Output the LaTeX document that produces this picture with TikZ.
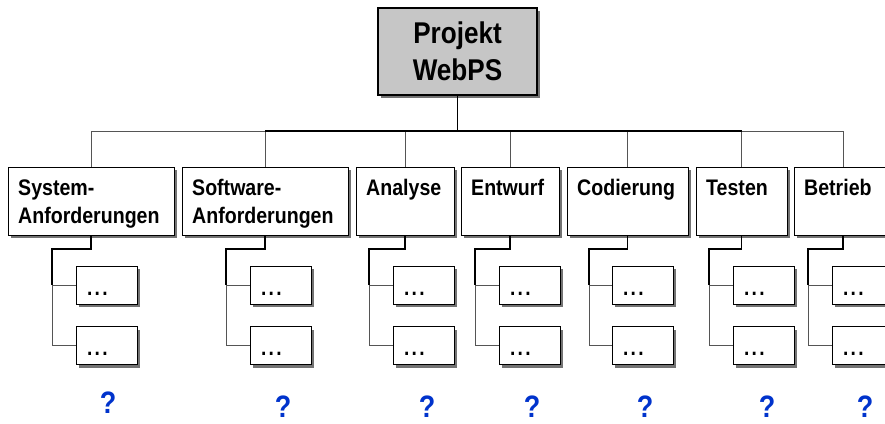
\documentclass[tikz,border=0pt]{standalone}
\usepackage{fontspec}
\setmainfont{Liberation Sans}[FakeStretch=0.87]
\usetikzlibrary{shadows}
\definecolor{wire}{RGB}{85,85,85}
\definecolor{shade}{RGB}{115,115,115}
\definecolor{qblue}{RGB}{0,51,204}
\definecolor{topfill}{RGB}{198,198,198}
\newcommand{\moredots}{.\kern2.4pt.\kern2.4pt.}
\tikzset{
  shadowed/.style={drop shadow={shadow xshift=3pt, shadow yshift=-3pt, fill=shade, opacity=1}},
  topbox/.style={draw=black, line width=1.1pt, fill=topfill, shadowed,
    minimum width=159pt, minimum height=87pt, inner sep=0pt, align=center,
    font=\bfseries\fontsize{30}{37}\selectfont},
  phasebox/.style={draw=black, line width=1pt, fill=white, shadowed,
    minimum height=68pt, inner sep=0pt},
  phaselabel/.style={anchor=base west, inner sep=0pt, align=left,
    font=\bfseries\fontsize{22.5}{28}\selectfont},
  subbox/.style={draw=black, line width=0.9pt, fill=white, shadowed,
    minimum height=38pt, inner xsep=11pt, inner ysep=0pt, text width=39pt,
    align=left, text height=20pt, text depth=0pt,
    font=\bfseries\fontsize{22}{26}\selectfont},
  thinwire/.style={draw=wire, line width=1pt},
  boldwire/.style={draw=black, line width=1.8pt},
  query/.style={anchor=base, inner sep=0pt, text=qblue,
    font=\bfseries\fontsize{31}{31}\selectfont}
}
\begin{document}
\begin{tikzpicture}[x=1pt, y=-1pt]
\useasboundingbox (0,0) rectangle (885,423);
\clip (0,0) rectangle (885,423);

% project root
\node[topbox] (proj) at (457.5,51.5) {Projekt\\WebPS};
\coordinate (bus) at (0,131);

% phases with their two work packages each
% (\base: distance from the box top to the baseline of the label's last line)
\foreach \i/\cx/\w/\lx/\sl/\base/\txt in {
  1/91/166/52/76/57/{System-\\Anforderungen},
  2/265/166/226/250/57/{Software-\\Anforderungen},
  3/405/98/369/393/29/{Analyse},
  4/510/98/475/499/29/{Entwurf},
  5/627.5/121/589/612/29/{Codierung},
  6/741.5/91/709/733/29/{Testen},
  7/843/98/808/832/29/{Betrieb}} {
  \node[phasebox, minimum width=\w pt] (b\i) at (\cx,201) {};
  \node[phaselabel] (t\i) at ([xshift=10.5pt, yshift=-\base pt]b\i.north west) {\txt};
  \node[subbox] (s\i a) at (\sl+30.5,285) {\moredots};
  \node[subbox] (s\i b) at (\sl+30.5,345.5) {\moredots};
  \coordinate (e\i) at (\lx,249);
  \coordinate (k\i) at (\lx,285);
  \draw[boldwire] (b\i.south) -- (b\i.south |- e\i) -- (e\i) -- (k\i);
  \draw[thinwire] (k\i) -- (s\i a.west);
  \draw[thinwire] (k\i) -- (k\i |- s\i b.west) -- (s\i b.west);
  \draw[thinwire] (b\i.north |- bus) -- (b\i.north);
}

% connection from the project to the phases
\draw[boldwire] (proj.south) -- (proj.south |- bus);
\draw[thinwire] (b1.north |- bus) -- (b2.north |- bus);
\draw[boldwire] (b2.north |- bus) -- (b6.north |- bus);
\draw[thinwire] (b6.north |- bus) -- (b7.north |- bus);

% open questions below each phase
\node[query] (q1) at (108,413) {?};
\node[query] (q2) at (283,417) {?};
\node[query] (q3) at (427,417) {?};
\node[query] (q4) at (532,417) {?};
\node[query] (q5) at (645,417) {?};
\node[query] (q6) at (767,417) {?};
\node[query] (q7) at (865,417) {?};
\end{tikzpicture}
\end{document}
